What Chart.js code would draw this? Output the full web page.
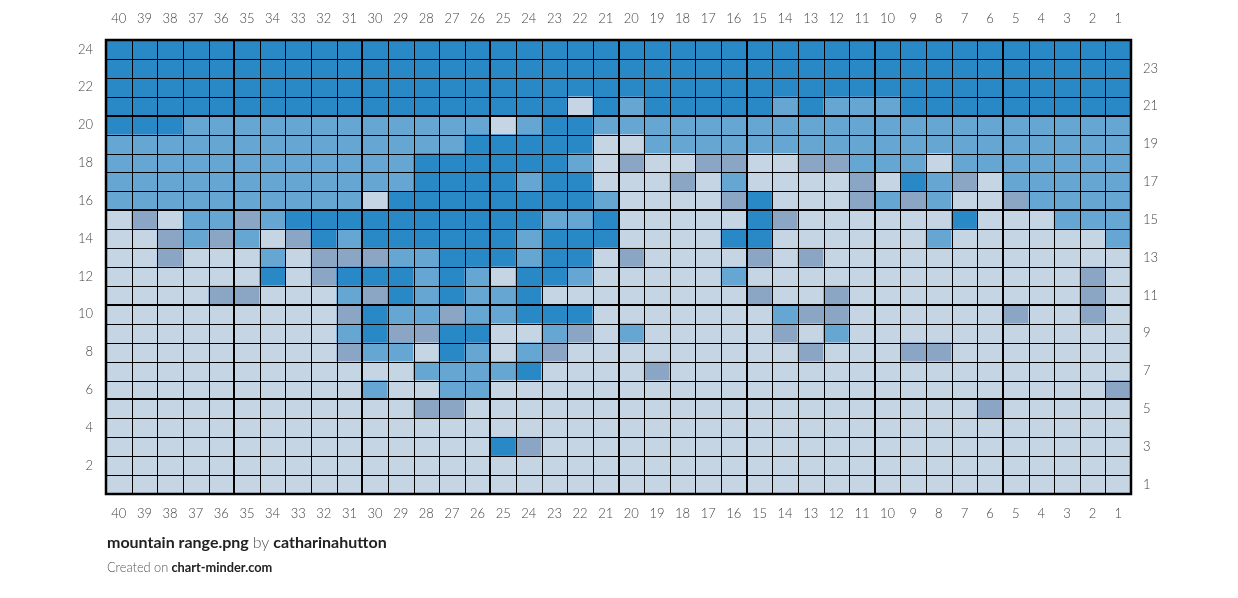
<!DOCTYPE html>
<html>
<head>
<meta charset="utf-8">
<script src="https://cdn.jsdelivr.net/npm/chart.js@4.4.0/dist/chart.umd.min.js"></script>
<style>
  body { margin: 0; background: #fff; font-family: Lato, sans-serif; }
  #wrap { position: relative; width: 1238px; height: 598px; }
  #gridChart { position: absolute; left: 0; top: 0; }
  .foot { position: absolute; left: 107px; color: #222; white-space: nowrap; }
  #title { top: 532px; font-size: 16px; font-weight: 700; }
  #title span { font-weight: 300; color: #555; }
  #credit { top: 559px; font-size: 12.8px; font-weight: 700; }
  #credit span { font-weight: 300; color: #555; }
</style>
</head>
<body>
<div id="wrap">
  <canvas id="gridChart" width="1238" height="598"></canvas>
  <div class="foot" id="title">mountain range.png <span>by</span> catharinahutton</div>
  <div class="foot" id="credit"><span>Created on</span> chart-minder.com</div>
</div>
<script>
// columns are numbered right to left, like the pattern
const columns = ['40','39','38','37','36','35','34','33','32','31','30','29','28','27','26','25','24','23','22','21',
  '20','19','18','17','16','15','14','13','12','11','10','9','8','7','6','5','4','3','2','1'];
const leftRowLabels = [24, 22, 20, 18, 16, 14, 12, 10, 8, 6, 4, 2];
const rightRowLabels = [23, 21, 19, 17, 15, 13, 11, 9, 7, 5, 3, 1];

// D = dark blue, M = mid blue, G = grey blue, L = light; top row (24) first, col 40 -> col 1
const cells = [
  'DDDDDDDDDDDDDDDDDDDDDDDDDDDDDDDDDDDDDDDD',
  'DDDDDDDDDDDDDDDDDDDDDDDDDDDDDDDDDDDDDDDD',
  'DDDDDDDDDDDDDDDDDDDDDDDDDDDDDDDDDDDDDDDD',
  'DDDDDDDDDDDDDDDDDDLDMDDDDDMDMMMDDDDDDDDD',
  'DDDMMMMMMMMMMMMLMDDMMMMMMMMMMMMMMMMMMMMM',
  'MMMMMMMMMMMMMMDDDDDLLMMMMMMMMMMMMMMMMMMM',
  'MMMMMMMMMMMMDDDDDDMLGLLGGLLGGMMMLMMMMMMM',
  'MMMMMMMMMMMMDDDDMDDLLLGLMLLLLGLDMGLMMMMM',
  'MMMMMMMMMMLDDDDDDDDMLLLLGDLLLGMGMLLGMMMM',
  'LGLMMGMDDDDDDDDDDMMDLLLLLDGLLLLLLDLLLMMM',
  'LLGMGMLGDMDDDDDDMDDDLLLLDDLLLLLLMLLLLLLM',
  'LLGLLLMLGGGMMDDDMDDLGLLLLGLGLLLLLLLLLLLL',
  'LLLLLLDLGDDDMDMLDDMLLLLLMLLLLLLLLLLLLLGL',
  'LLLLGGLLLMGDMDMMDLLLLLLLLGLLGLLLLLLLLLGL',
  'LLLLLLLLLGDMMGMMDDDLLLLLLLMGGLLLLLLGLLGL',
  'LLLLLLLLLMDGGDDLLMGLMLLLLLGLMLLLLLLLLLLL',
  'LLLLLLLLLGMMLDMLMGLLLLLLLLLGLLLGGLLLLLLL',
  'LLLLLLLLLLLLMMMMDLLLLGLLLLLLLLLLLLLLLLLL',
  'LLLLLLLLLLMLLMMLLLLLLLLLLLLLLLLLLLLLLLLG',
  'LLLLLLLLLLLLGGLLLLLLLLLLLLLLLLLLLLGLLLLL',
  'LLLLLLLLLLLLLLLLLLLLLLLLLLLLLLLLLLLLLLLL',
  'LLLLLLLLLLLLLLLDGLLLLLLLLLLLLLLLLLLLLLLL',
  'LLLLLLLLLLLLLLLLLLLLLLLLLLLLLLLLLLLLLLLL',
  'LLLLLLLLLLLLLLLLLLLLLLLLLLLLLLLLLLLLLLLL'
];

const palette = { D: '#2989c6', M: '#66a6d2', G: '#8ba5c4', L: '#c5d5e3' };

// one stacked dataset per row, bottom row first
const datasets = cells.slice().reverse().map((row, i) => ({
  label: 'row ' + (i + 1),
  data: columns.map(() => 1),
  backgroundColor: row.split('').map(c => palette[c]),
  borderWidth: 0,
  barPercentage: 1,
  categoryPercentage: 1
}));

const tickFont = { family: 'Lato', size: 13, weight: 300 };
const tickColor = '#444';

// draws the cell lines, thicker every 5 cells
const gridLines = {
  id: 'gridLines',
  afterDatasetsDraw(chart) {
    const ctx = chart.ctx, a = chart.chartArea;
    const x = chart.scales.x, y = chart.scales.y;
    const w = (x.getPixelForValue(1) - x.getPixelForValue(0));
    ctx.save();
    ctx.strokeStyle = '#000';
    for (let i = 0; i <= columns.length; i++) {
      const px = x.getPixelForValue(i) - w / 2;
      const thick = i % 5 === 0;
      ctx.lineWidth = thick ? 2 : 1;
      const xx = thick ? Math.round(px) : Math.round(px) + 0.5;
      ctx.beginPath(); ctx.moveTo(xx, a.top); ctx.lineTo(xx, a.bottom); ctx.stroke();
    }
    for (let v = 0; v <= 24; v++) {
      const py = y.getPixelForValue(v);
      const thick = v % 5 === 0 || v === 24;
      ctx.lineWidth = thick ? 2 : 1;
      const yy = thick ? Math.round(py) : Math.round(py) + 0.5;
      ctx.beginPath(); ctx.moveTo(a.left - 1, yy); ctx.lineTo(a.right + 1, yy); ctx.stroke();
    }
    ctx.lineWidth = 2.5;
    ctx.strokeRect(a.left, a.top, a.right - a.left, a.bottom - a.top);
    ctx.restore();
  }
};

new Chart(document.getElementById('gridChart'), {
  type: 'bar',
  data: { labels: columns, datasets: datasets },
  options: {
    responsive: false,
    animation: false,
    layout: { padding: 0 },
    plugins: { legend: { display: false }, tooltip: { enabled: false } },
    scales: {
      x: {
        stacked: true,
        position: 'bottom',
        grid: { display: false },
        border: { display: false },
        ticks: { color: tickColor, font: tickFont, padding: 4, autoSkip: false, maxRotation: 0 },
        afterFit: s => { s.height = 104; }
      },
      x2: {
        type: 'category',
        labels: columns,
        position: 'top',
        offset: true,
        grid: { display: false },
        border: { display: false },
        ticks: { color: tickColor, font: tickFont, padding: 5, autoSkip: false, maxRotation: 0 },
        afterFit: s => { s.height = 40; }
      },
      y: {
        stacked: true,
        min: 0, max: 24,
        position: 'left',
        grid: { display: false },
        border: { display: false },
        afterBuildTicks: s => { s.ticks = leftRowLabels.map(r => ({ value: r - 0.5 })); },
        ticks: { color: tickColor, font: tickFont, padding: 5, autoSkip: false, callback: v => String(v + 0.5) },
        afterFit: s => { s.width = 106; }
      },
      y2: {
        type: 'linear',
        min: 0, max: 24,
        position: 'right',
        grid: { display: false },
        border: { display: false },
        afterBuildTicks: s => { s.ticks = rightRowLabels.map(r => ({ value: r - 0.5 })); },
        ticks: { color: tickColor, font: tickFont, padding: 4, autoSkip: false, callback: v => String(v + 0.5) },
        afterFit: s => { s.width = 107; }
      }
    }
  },
  plugins: [gridLines]
});
</script>
</body>
</html>
